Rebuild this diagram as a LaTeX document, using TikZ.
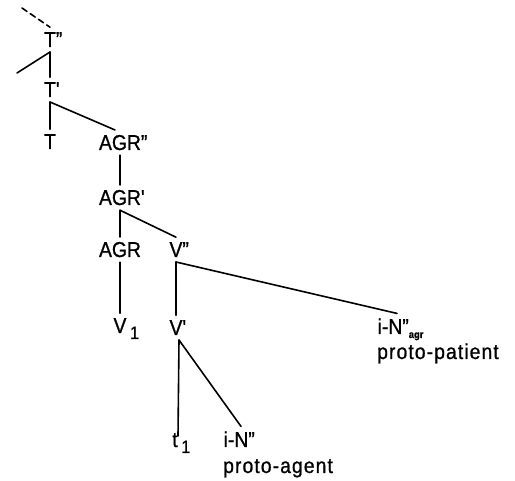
\documentclass[tikz,border=0pt]{standalone}
\usepackage{fontspec}
\setmainfont{Liberation Sans}[FakeStretch=0.9, FakeBold=0.8]
\newcommand{\pp}{\rlap{"}}
\newcommand{\p}{\rlap{\textquotesingle}}
\newcommand{\subone}{\rlap{\,\raisebox{-6pt}{\fontsize{18}{18}\selectfont 1}}}
\begin{document}
\begin{tikzpicture}[x=1pt,y=-1pt,
  cat/.style={inner sep=0pt, outer ysep=5pt, anchor=base, font=\fontsize{21.5}{24}\selectfont},
  gloss/.style={inner sep=0pt, anchor=base west, font=\fontsize{21.5}{24}\selectfont\addfontfeature{LetterSpace=5}},
  br/.style={line width=1.6pt, line cap=round}]
\useasboundingbox (0,0) rectangle (515,481);
\node[cat] (Tpp) at (50,47) {T\pp};
\node[cat] (Tp) at (50,97) {T\p};
\node[cat] (T) at (50,149) {T};
\node[cat] (AGRpp) at (120,150) {AGR\pp};
\node[cat] (AGRp) at (120,205) {AGR\p};
\node[cat] (AGR) at (120,257) {AGR};
\node[cat] (Vpp) at (176,257) {V\pp};
\node[cat] (V1) at (120,333) {V\subone};
\node[cat] (Vp) at (176,335) {V\p};
\node[cat] (t1) at (175,447) {t\subone};
\node[cat] (iN) at (236,447) {i-N\pp};
\node[gloss] (pa) at (223,473) {proto-agent};
\node[cat] (iNa) at (390,334) {i-N\rlap{"\raisebox{-4pt}{\fontsize{10.5}{10.5}\selectfont\bfseries agr}}};
\node[gloss] (pp) at (377,359) {proto-patient};
\coordinate (top) at (22,8);
\coordinate (lft) at (17,73);
\draw[br, dash pattern=on 6pt off 4pt] (top) -- (Tpp.north);
\draw[br] (Tpp.south) -- (Tp.north);
\draw[br] (Tpp.south) -- (lft);
\draw[br] (Tp.south) -- (T.north);
\draw[br] (Tp.south) -- ([xshift=-5pt]AGRpp.north);
\draw[br] (AGRpp.south) -- (AGRp.north);
\draw[br] (AGRp.south) -- (AGR.north);
\draw[br] (AGRp.south) -- (Vpp.north);
\draw[br] (AGR.south) -- (V1.north);
\draw[br] (Vpp.south) -- (Vp.north);
\draw[br] (Vpp.south) -- ([xshift=7pt]iNa.north);
\draw[br] ([xshift=3pt]Vp.south) -- ([xshift=3pt,yshift=-8pt]t1.north);
\draw[br] ([xshift=3pt]Vp.south) -- ([xshift=5pt]iN.north);
\end{tikzpicture}
\end{document}
